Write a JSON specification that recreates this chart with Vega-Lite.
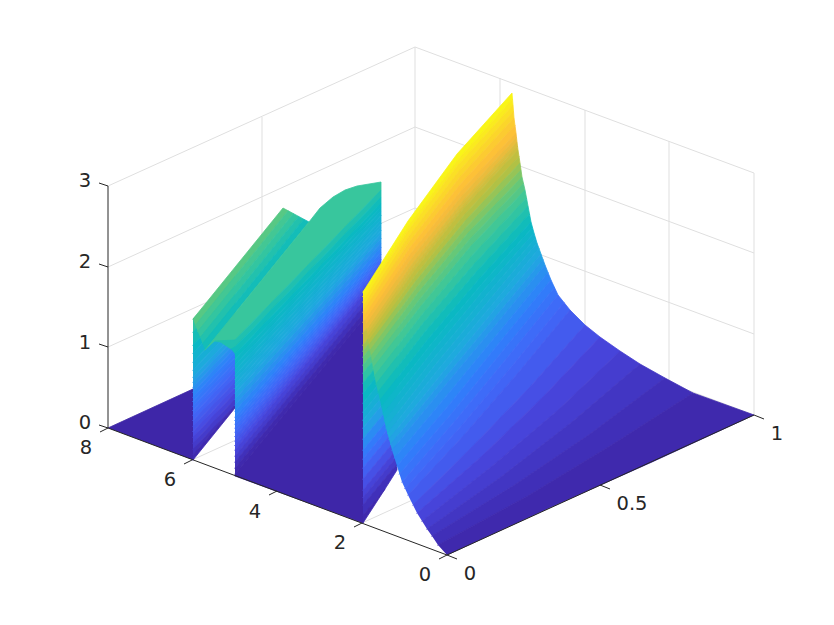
{"$schema":"https://vega.github.io/schema/vega-lite/v6.json","width":834,"height":625,"padding":0,"autosize":{"type":"none"},"background":"white","view":{"stroke":null},
"datasets":{
"lines":[
{"k":"g","u":108,"v":186,"u2":415,"v2":47},{"k":"g","u":108,"v":267,"u2":415,"v2":127},{"k":"g","u":108,"v":347,"u2":415,"v2":208},{"k":"g","u":108,"v":428,"u2":415,"v2":288},
{"k":"g","u":415,"v":47,"u2":754,"v2":173},{"k":"g","u":415,"v":127,"u2":754,"v2":253},{"k":"g","u":415,"v":208,"u2":754,"v2":334},{"k":"g","u":415,"v":288,"u2":754,"v2":415},
{"k":"g","u":415,"v":47,"u2":415,"v2":288},{"k":"g","u":262,"v":117,"u2":262,"v2":358},{"k":"g","u":500,"v":78,"u2":500,"v2":320},{"k":"g","u":585,"v":110,"u2":585,"v2":351},{"k":"g","u":669,"v":141,"u2":669,"v2":383},{"k":"g","u":754,"v":173,"u2":754,"v2":415},
{"k":"g","u":362,"v":523,"u2":669,"v2":383},{"k":"g","u":277,"v":491,"u2":585,"v2":351},{"k":"g","u":192,"v":460,"u2":500,"v2":320},{"k":"g","u":262,"v":358,"u2":600,"v2":485},
{"k":"a","u":108,"v":186,"u2":108,"v2":428},{"k":"a","u":108,"v":428,"u2":447,"v2":555},{"k":"a","u":447,"v":555,"u2":754,"v2":415},
{"k":"a","u":108,"v":186,"u2":99,"v2":183},{"k":"a","u":108,"v":267,"u2":99,"v2":264},{"k":"a","u":108,"v":347,"u2":99,"v2":344},{"k":"a","u":108,"v":428,"u2":99,"v2":425},
{"k":"a","u":108,"v":428,"u2":100,"v2":432},{"k":"a","u":192,"v":460,"u2":184,"v2":464},{"k":"a","u":277,"v":491,"u2":269,"v2":495},{"k":"a","u":362,"v":523,"u2":354,"v2":527},{"k":"a","u":447,"v":555,"u2":439,"v2":559},
{"k":"a","u":447,"v":555,"u2":457,"v2":559},{"k":"a","u":600,"v":485,"u2":610,"v2":489},{"k":"a","u":754,"v":415,"u2":764,"v2":419}],
"labels":[{"t":"3","u":85,"v":181},{"t":"2","u":85,"v":262},{"t":"1","u":85,"v":343},{"t":"0","u":85,"v":423},{"t":"8","u":86,"v":448},{"t":"6","u":170,"v":480},{"t":"4","u":255,"v":512},{"t":"2","u":340,"v":543},{"t":"0","u":425,"v":575},{"t":"0","u":470,"v":574},{"t":"0.5","u":632,"v":504},{"t":"1","u":777,"v":434}],
"patches":[
{"id":1,"z":0,"u":[108,193,193],"v":[428,389,460]},
{"id":2,"z":1.68,"u":[193,235,235,193],"v":[319,275,288,332]},
{"id":3,"z":1.56,"u":[193,235,235,193],"v":[332,288,301,345]},
{"id":4,"z":1.44,"u":[193,235,235,193],"v":[345,301,309,353]},
{"id":5,"z":1.32,"u":[193,235,235,193],"v":[353,309,318,362]},
{"id":6,"z":1.21,"u":[193,235,235,193],"v":[362,318,326,370]},
{"id":7,"z":1.1,"u":[193,235,235,193],"v":[370,326,333,377]},
{"id":8,"z":1.01,"u":[193,235,235,193],"v":[377,333,338,382]},
{"id":9,"z":0.94,"u":[193,235,235,193],"v":[382,338,343,387]},
{"id":10,"z":0.86,"u":[193,235,235,193],"v":[387,343,348,392]},
{"id":11,"z":0.79,"u":[193,235,235,193],"v":[392,348,353,397]},
{"id":12,"z":0.72,"u":[193,235,235,193],"v":[397,353,357.5,401.5]},
{"id":13,"z":0.67,"u":[193,235,235,193],"v":[401.5,357.5,362,406]},
{"id":14,"z":0.62,"u":[193,235,235,193],"v":[406,362,366.5,410.5]},
{"id":15,"z":0.57,"u":[193,235,235,193],"v":[410.5,366.5,371,415]},
{"id":16,"z":0.51,"u":[193,235,235,193],"v":[415,371,376.5,420.5]},
{"id":17,"z":0.45,"u":[193,235,235,193],"v":[420.5,376.5,382,426]},
{"id":18,"z":0.39,"u":[193,235,235,193],"v":[426,382,387.5,431.5]},
{"id":19,"z":0.33,"u":[193,235,235,193],"v":[431.5,387.5,393,437]},
{"id":20,"z":0.26,"u":[193,235,235,193],"v":[437,393,399,443]},
{"id":21,"z":0.19,"u":[193,235,235,193],"v":[443,399,405,449]},
{"id":22,"z":0.11,"u":[193,235,235,193],"v":[449,405,406.5,454.5]},
{"id":23,"z":0.04,"u":[193,235,235,193],"v":[454.5,406.5,408,460]},
{"id":24,"z":1.85,"u":[193,283,288.2,195.4],"v":[319,208,210.8,325.2]},
{"id":25,"z":1.77,"u":[195.4,288.2,293.4,197.8],"v":[325.2,210.8,213.6,331.4]},
{"id":26,"z":1.7,"u":[197.8,293.4,298.6,200.2],"v":[331.4,213.6,216.4,337.6]},
{"id":27,"z":1.62,"u":[200.2,298.6,303.8,202.6],"v":[337.6,216.4,219.2,343.8]},
{"id":28,"z":1.55,"u":[202.6,303.8,309,205],"v":[343.8,219.2,222,350]},
{"id":29,"z":1.72,"u":[205,257,309,320,333,345,357,381,381,235,215],"v":[350,286,222,208,197,190,186,182,190,340,341]},
{"id":30,"z":1.61,"u":[215,235,381,381,235,231,222],"v":[341,340,190,197,347,349,343]},
{"id":31,"z":1.54,"u":[231,235,381,381,235],"v":[349,347,197,203,354]},
{"id":32,"z":1.47,"u":[235,381,381,235],"v":[354,203,207,359.5]},
{"id":33,"z":1.41,"u":[235,381,381,235],"v":[359.5,207,211,365]},
{"id":34,"z":1.35,"u":[235,381,381,235],"v":[365,211,215.5,370]},
{"id":35,"z":1.29,"u":[235,381,381,235],"v":[370,215.5,220,375]},
{"id":36,"z":1.23,"u":[235,381,381,235],"v":[375,220,223.5,379.5]},
{"id":37,"z":1.18,"u":[235,381,381,235],"v":[379.5,223.5,227,384]},
{"id":38,"z":1.13,"u":[235,381,381,235],"v":[384,227,230.5,388.5]},
{"id":39,"z":1.08,"u":[235,381,381,235],"v":[388.5,230.5,234,393]},
{"id":40,"z":1.01,"u":[235,381,381,235],"v":[393,234,238.5,399]},
{"id":41,"z":0.94,"u":[235,381,381,235],"v":[399,238.5,243,405]},
{"id":42,"z":0.86,"u":[235,381,381,235],"v":[405,243,247.5,411]},
{"id":43,"z":0.79,"u":[235,381,381,235],"v":[411,247.5,252,417]},
{"id":44,"z":0.72,"u":[235,381,381,235],"v":[417,252,254.5,420.5]},
{"id":45,"z":0.67,"u":[235,381,381,235],"v":[420.5,254.5,257,424]},
{"id":46,"z":0.62,"u":[235,381,381,235],"v":[424,257,259.5,428]},
{"id":47,"z":0.57,"u":[235,381,381,235],"v":[428,259.5,262,432]},
{"id":48,"z":0.51,"u":[235,381,381,235],"v":[432,262,265,436.5]},
{"id":49,"z":0.45,"u":[235,381,381,235],"v":[436.5,265,268,441]},
{"id":50,"z":0.39,"u":[235,381,381,235],"v":[441,268,270.5,445.5]},
{"id":51,"z":0.33,"u":[235,381,381,235],"v":[445.5,270.5,273,450]},
{"id":52,"z":0.26,"u":[235,381,381,235],"v":[450,273,279,456]},
{"id":53,"z":0.19,"u":[235,381,381,235],"v":[456,279,285,462]},
{"id":54,"z":0.1,"u":[235,381,381,235],"v":[462,285,292,468]},
{"id":55,"z":0.03,"u":[235,381,381,235],"v":[468,292,298,474]},
{"id":56,"z":0,"u":[235,381,363,363,235],"v":[474,298,320,523,476]},
{"id":57,"z":2.92,"u":[363,397,397,363],"v":[292,251,261,302]},
{"id":58,"z":2.78,"u":[363,397,397,363],"v":[302,261,271,312]},
{"id":59,"z":2.62,"u":[363,397,397,363],"v":[312,271,281,322]},
{"id":60,"z":2.44,"u":[363,397,397,363],"v":[322,281,292,333]},
{"id":61,"z":2.25,"u":[363,397,397,363],"v":[333,292,304,345]},
{"id":62,"z":2.1,"u":[363,397,397,363],"v":[345,304,310,351]},
{"id":63,"z":2,"u":[363,397,397,363],"v":[351,310,316,357]},
{"id":64,"z":1.9,"u":[363,397,397,363],"v":[357,316,324,365]},
{"id":65,"z":1.8,"u":[363,397,397,363],"v":[365,324,332,373]},
{"id":66,"z":1.68,"u":[363,397,397,363],"v":[373,332,342,383]},
{"id":67,"z":1.56,"u":[363,397,397,363],"v":[383,342,352,393]},
{"id":68,"z":1.44,"u":[363,397,397,363],"v":[393,352,362,403]},
{"id":69,"z":1.32,"u":[363,397,397,363],"v":[403,362,371,412]},
{"id":70,"z":1.21,"u":[363,397,397,363],"v":[412,371,379,420]},
{"id":71,"z":1.1,"u":[363,397,397,363],"v":[420,379,387,428]},
{"id":72,"z":0.98,"u":[363,397,397,363],"v":[428,387,398,439]},
{"id":73,"z":0.83,"u":[363,397,397,363],"v":[439,398,409,450]},
{"id":74,"z":0.7,"u":[363,397,397,363],"v":[450,409,418,459]},
{"id":75,"z":0.6,"u":[363,397,397,363],"v":[459,418,427,468]},
{"id":76,"z":0.48,"u":[363,397,397,363],"v":[468,427,438,479]},
{"id":77,"z":0.36,"u":[363,397,397,363],"v":[479,438,449,490]},
{"id":78,"z":0.26,"u":[363,397,397,363],"v":[490,449,456.5,497.5]},
{"id":79,"z":0.19,"u":[363,397,397,363],"v":[497.5,456.5,464,505]},
{"id":80,"z":0.1,"u":[363,397,397,385,363],"v":[505,464,470,489,515]},
{"id":81,"z":0.03,"u":[363,385,363],"v":[515,489,523]},
{"id":82,"z":2.96,"u":[363,408,457,512,512.5,458,408,363],"v":[292,221,154,93,99,159.5,226,296.5]},
{"id":83,"z":2.89,"u":[363,408,458,512.5,513,458,408,363.5],"v":[296.5,226,159.5,99,105,165,231,301]},
{"id":84,"z":2.81,"u":[363.5,408,458,513,513.5,459,409,364],"v":[301,231,165,105,111.5,171,236,305.5]},
{"id":85,"z":2.74,"u":[364,409,459,513.5,514,460,410,364],"v":[305.5,236,171,111.5,118,177,241,310]},
{"id":86,"z":2.66,"u":[364,410,460,514,515,460.5,410.5,365],"v":[310,241,177,118,125.5,184,247,315]},
{"id":87,"z":2.59,"u":[365,410.5,460.5,515,516,461,411,365.5],"v":[315,247,184,125.5,133,191,253,320]},
{"id":88,"z":2.51,"u":[365.5,411,461,516,516.5,462,412,366],"v":[320,253,191,133,137.5,196,258,325]},
{"id":89,"z":2.44,"u":[366,412,462,516.5,517,463,413,367],"v":[325,258,196,137.5,142,201,263,330]},
{"id":90,"z":2.36,"u":[367,413,463,517,517.5,463.5,413.5,367.5],"v":[330,263,201,142,146,204.5,267,333.5]},
{"id":91,"z":2.29,"u":[367.5,413.5,463.5,517.5,518,464,414,368],"v":[333.5,267,204.5,146,150,208,271,337]},
{"id":92,"z":2.21,"u":[368,414,464,518,519,465,415,368.5],"v":[337,271,208,150,156.5,214,276,341]},
{"id":93,"z":2.14,"u":[368.5,415,465,519,520,466,416,369],"v":[341,276,214,156.5,163,220,281,345]},
{"id":94,"z":2.06,"u":[369,416,466,520,521,467,417,370],"v":[345,281,220,163,170,226.5,287,350.5]},
{"id":95,"z":1.99,"u":[370,417,467,521,522,468,418,371],"v":[350.5,287,226.5,170,177,233,293,356]},
{"id":96,"z":1.91,"u":[371,418,468,522,523.5,469.5,419.5,372],"v":[356,293,233,177,183.5,239.5,299.5,362]},
{"id":97,"z":1.84,"u":[372,419.5,469.5,523.5,525,471,421,373],"v":[362,299.5,239.5,183.5,190,246,306,368]},
{"id":98,"z":1.76,"u":[373,421,471,525,526.5,473,422.5,374.5],"v":[368,306,246,190,198,254.5,314,376]},
{"id":99,"z":1.69,"u":[374.5,422.5,473,526.5,528,475,424,376],"v":[376,314,254.5,198,206,263,322,384]},
{"id":100,"z":1.61,"u":[376,424,475,528,529.5,477,426,378],"v":[384,322,263,206,214,271,330.5,392]},
{"id":101,"z":1.54,"u":[378,426,477,529.5,531,479,428,380],"v":[392,330.5,271,214,222,279,339,400]},
{"id":102,"z":1.46,"u":[380,428,479,531,532.5,480.5,430,381.5],"v":[400,339,279,222,227.5,285.5,345.5,407]},
{"id":103,"z":1.39,"u":[381.5,430,480.5,532.5,534,482,432,383],"v":[407,345.5,285.5,227.5,233,292,352,414]},
{"id":104,"z":1.31,"u":[383,432,482,534,535.5,484,433.5,384.5],"v":[414,352,292,233,238,298,358.5,421]},
{"id":105,"z":1.24,"u":[384.5,433.5,484,535.5,537,486,435,386],"v":[421,358.5,298,238,243,304,365,428]},
{"id":106,"z":1.16,"u":[386,435,486,537,539,488,437,387.5],"v":[428,365,304,243,248.5,309.5,371,433.5]},
{"id":107,"z":1.09,"u":[387.5,437,488,539,541,490,439,389],"v":[433.5,371,309.5,248.5,254,315,377,439]},
{"id":108,"z":1.01,"u":[389,439,490,541,543,492,441,390.5],"v":[439,377,315,254,259.5,321,382.5,444.5]},
{"id":109,"z":0.94,"u":[390.5,441,492,543,545,494,443,392],"v":[444.5,382.5,321,259.5,265,327,388,450]},
{"id":110,"z":0.86,"u":[392,443,494,545,548,497,446,394.5],"v":[450,388,327,265,272.5,334.5,396.5,458]},
{"id":111,"z":0.79,"u":[394.5,446,497,548,551,500,449,397],"v":[458,396.5,334.5,272.5,280,342,405,466]},
{"id":112,"z":0.71,"u":[397,449,500,551,554.5,503.5,452,399.5],"v":[466,405,342,280,287.5,350,413,474]},
{"id":113,"z":0.64,"u":[399.5,452,503.5,554.5,558,507,455,402],"v":[474,413,350,287.5,295,358,421,482]},
{"id":114,"z":0.57,"u":[402,455,507,558,564,512.5,459.5,405],"v":[482,421,358,295,302.5,365.5,428,488.5]},
{"id":115,"z":0.51,"u":[405,459.5,512.5,564,570,518,464,408],"v":[488.5,428,365.5,302.5,310,373,435,495]},
{"id":116,"z":0.44,"u":[408,464,518,570,585,530,472,413],"v":[495,435,373,310,325,387,447,505]},
{"id":117,"z":0.35,"u":[413,472,530,585,600,542,481,417],"v":[505,447,387,325,337,398,457,513]},
{"id":118,"z":0.27,"u":[417,481,542,600,620,557,491,422],"v":[513,457,398,337,351,411,467,521]},
{"id":119,"z":0.21,"u":[422,491,557,620,640,572,501,427],"v":[521,467,411,351,364,422,477,529]},
{"id":120,"z":0.15,"u":[427,501,572,640,665,590,513,432],"v":[529,477,422,364,378,434,486,536]},
{"id":121,"z":0.09,"u":[432,513,590,665,693,610,526,438],"v":[536,486,434,378,393,446,497,545]},
{"id":122,"z":0.03,"u":[438,526,610,693,754,652,549,447],"v":[545,497,446,393,415,462,508,555]}]},
"layer":[
{"data":{"name":"lines"},"transform":[{"filter":"datum.k==='g'"}],"mark":{"type":"rule","color":"#dfdfdf","strokeWidth":1},"encoding":{"x":{"field":"u","type":"quantitative","scale":{"domain":[0,834],"nice":false,"zero":false},"axis":null},"y":{"field":"v","type":"quantitative","scale":{"domain":[625,0],"nice":false,"zero":false},"axis":null},"x2":{"field":"u2"},"y2":{"field":"v2"}}},
{"data":{"name":"patches"},"transform":[{"flatten":["u","v"]},{"window":[{"op":"row_number","as":"i"}]}],"mark":{"type":"line","strokeWidth":0.8,"strokeCap":"round","strokeJoin":"round"},"encoding":{"x":{"field":"u","type":"quantitative","scale":{"domain":[0,834],"nice":false,"zero":false},"axis":null},"y":{"field":"v","type":"quantitative","scale":{"domain":[625,0],"nice":false,"zero":false},"axis":null},"detail":{"field":"id","type":"nominal"},"order":{"field":"i","type":"quantitative"},
"fill":{"field":"z","type":"quantitative","legend":null,"scale":{"interpolate":"rgb","domain":[0,0.09,0.3,0.54,0.75,1.05,1.5,1.74,1.95,2.16,2.55,3],"range":["#3e26a8","#402fb8","#4848e0","#4068f8","#2f80fa","#20a8e0","#08bac0","#3cc79a","#70c870","#b8c040","#fdbb3a","#f9fb15"]}},
"stroke":{"field":"z","type":"quantitative","legend":null,"scale":{"interpolate":"rgb","domain":[0,0.09,0.3,0.54,0.75,1.05,1.5,1.74,1.95,2.16,2.55,3],"range":["#3e26a8","#402fb8","#4848e0","#4068f8","#2f80fa","#20a8e0","#08bac0","#3cc79a","#70c870","#b8c040","#fdbb3a","#f9fb15"]}}}},
{"data":{"name":"lines"},"transform":[{"filter":"datum.k==='a'"}],"mark":{"type":"rule","color":"#262626","strokeWidth":1},"encoding":{"x":{"field":"u","type":"quantitative","scale":{"domain":[0,834],"nice":false,"zero":false},"axis":null},"y":{"field":"v","type":"quantitative","scale":{"domain":[625,0],"nice":false,"zero":false},"axis":null},"x2":{"field":"u2"},"y2":{"field":"v2"}}},
{"data":{"name":"labels"},"mark":{"type":"text","font":"DejaVu Sans","fontSize":19.5,"color":"#262626","align":"center","baseline":"middle"},"encoding":{"x":{"field":"u","type":"quantitative","scale":{"domain":[0,834],"nice":false,"zero":false},"axis":null},"y":{"field":"v","type":"quantitative","scale":{"domain":[625,0],"nice":false,"zero":false},"axis":null},"text":{"field":"t","type":"nominal"}}}
],
"resolve":{"scale":{"fill":"independent","stroke":"independent"}}}
